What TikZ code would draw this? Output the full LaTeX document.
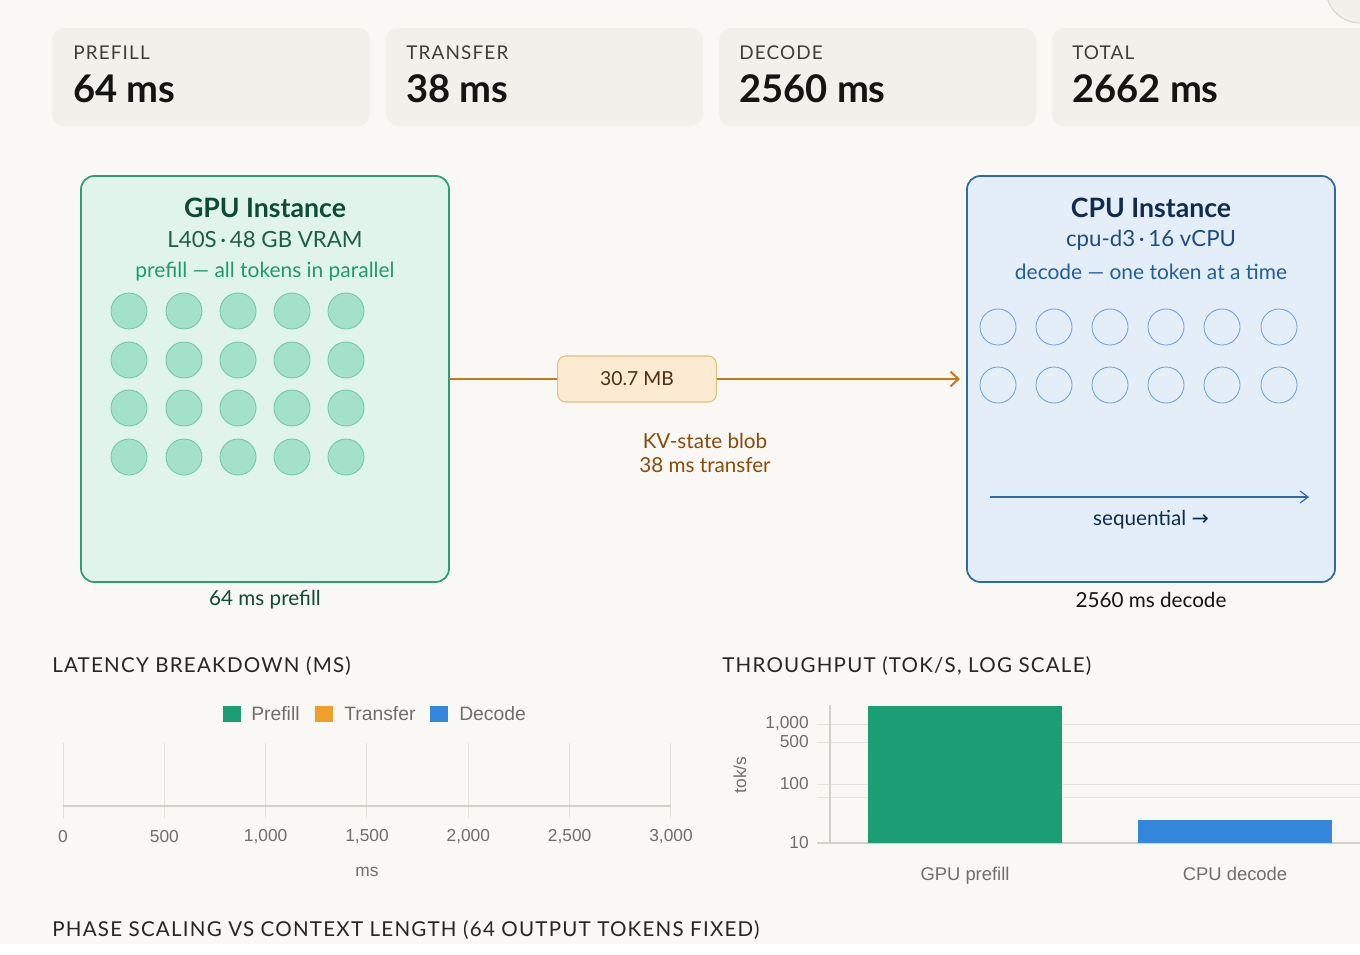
\documentclass[tikz,border=0pt]{standalone}
\usepackage{fontspec}
\setmainfont{Lato}
\newfontfamily\uifont{Lato}
\newfontfamily\capsfont[LetterSpace=6]{Lato}
\newfontfamily\chartfont{Liberation Sans}
\newfontfamily\symfont{DejaVu Sans}
\usetikzlibrary{arrows.meta}
\definecolor{bgc}{HTML}{F9F8F4}
\definecolor{cardc}{HTML}{F1F0EB}
\definecolor{labc}{HTML}{3D3D3A}
\definecolor{valc}{HTML}{141413}
\definecolor{gfill}{HTML}{E0F4EC}
\definecolor{gline}{HTML}{2E9C76}
\definecolor{gdark}{HTML}{0D4A38}
\definecolor{gmid}{HTML}{1C5F49}
\definecolor{glight}{HTML}{1E9A6E}
\definecolor{gdotf}{HTML}{A3E1CA}
\definecolor{gdotl}{HTML}{6CC8A4}
\definecolor{cfill}{HTML}{E4EEF9}
\definecolor{cline}{HTML}{2C6AAE}
\definecolor{cdark}{HTML}{0F2C4E}
\definecolor{cmid}{HTML}{1D4C82}
\definecolor{clight}{HTML}{1F5E9E}
\definecolor{cdotl}{HTML}{6B9ED6}
\definecolor{oline}{HTML}{C47A1B}
\definecolor{ofill}{HTML}{FBEBD2}
\definecolor{oedge}{HTML}{E8BE7B}
\definecolor{otext}{HTML}{8A4A0A}
\definecolor{odark}{HTML}{4A3010}
\definecolor{chg}{HTML}{1C9E75}
\definecolor{cho}{HTML}{F0A02A}
\definecolor{chb}{HTML}{3587DB}
\definecolor{gridc}{HTML}{E4E2DD}
\definecolor{axisc}{HTML}{D2D0CA}
\definecolor{ticklab}{HTML}{6E6E6C}
\definecolor{headc}{HTML}{262624}
\tikzset{
  card/.style={fill=cardc, draw=none, rounded corners=9pt},
  cardlab/.style={anchor=west, inner sep=0, text=labc, font=\capsfont\fontsize{14.2}{16}\selectfont},
  cardval/.style={anchor=west, inner sep=0, text=valc, font=\uifont\bfseries\fontsize{28.6}{32}\selectfont},
  gdot/.style={circle, minimum size=27pt, inner sep=0, fill=gdotf, draw=gdotl, line width=0.6pt},
  cdot/.style={circle, minimum size=27pt, inner sep=0, draw=cdotl, line width=0.6pt},
  heading/.style={anchor=west, inner sep=0, text=headc, font=\capsfont\fontsize{15.4}{18}\selectfont},
  ticktxt/.style={inner sep=0, text=ticklab, font=\chartfont\fontsize{13}{15}\selectfont},
  bodytxt/.style={font=\uifont\fontsize{15.5}{18}\selectfont},
  gridln/.style={draw=gridc, line width=0.75pt},
}
\begin{document}
\begin{tikzpicture}[x=0.75pt,y=-0.75pt]
\useasboundingbox (0,0) rectangle (1360,954);
\fill[bgc] (0,0) rectangle (1360,944);
\fill[white] (0,944) rectangle (1360,954);
% corner button
\begin{scope}
\clip (0,0) rectangle (1360,954);
\filldraw[fill=cardc, draw=axisc, line width=0.6pt] (1360,-11) circle[radius=34];
\end{scope}
% stat cards
\fill[card] (52,28) rectangle (370,126);
\fill[card] (386,28) rectangle (703,126);
\fill[card] (719,28) rectangle (1036,126);
\begin{scope}
\clip (0,0) rectangle (1360,954);
\fill[card] (1052,28) rectangle (1380,126);
\end{scope}
\node[cardlab] (l1) at (73,53) {PREFILL};
\node[cardval] (v1) at (73,89) {64 ms};
\node[cardlab] (l2) at (406,53) {TRANSFER};
\node[cardval] (v2) at (406,89) {38 ms};
\node[cardlab] (l3) at (739,53) {DECODE};
\node[cardval] (v3) at (739,89) {2560 ms};
\node[cardlab] (l4) at (1072,53) {TOTAL};
\node[cardval] (v4) at (1072,89) {2662 ms};
% GPU box
\node[draw=gline, fill=gfill, line width=1.3pt, rounded corners=10pt, minimum width=276pt, minimum height=304.5pt, inner sep=0] (gpu) at (265,379) {};
\node[text=gdark, font=\uifont\bfseries\fontsize{20}{23}\selectfont] (gt) at (265,208) {GPU Instance};
\node[text=gmid, font=\uifont\fontsize{16.7}{19}\selectfont] (gs) at (265,240) {L40S\,·\,48 GB VRAM};
\node[text=glight, font=\uifont\fontsize{15.7}{18}\selectfont] (gd) at (265,272) {prefill — all tokens in parallel};
\foreach \r/\yy in {1/311,2/360,3/408,4/457}{
  \foreach \c/\xx in {1/129,2/184,3/238,4/292,5/346}{
    \node[gdot] (g\r\c) at (\xx,\yy) {};
  }
}
\node[text=gdark, bodytxt] (gcap) at (265,600) {64 ms prefill};
% CPU box
\node[draw=cline, fill=cfill, line width=1.3pt, rounded corners=10pt, minimum width=276pt, minimum height=304.5pt, inner sep=0] (cpu) at (1151,379) {};
\node[text=cdark, font=\uifont\bfseries\fontsize{20}{23}\selectfont] (ct) at (1151,208) {CPU Instance};
\node[text=cmid, font=\uifont\fontsize{16.7}{19}\selectfont] (cs) at (1151,240) {cpu-d3\,·\,16 vCPU};
\node[text=clight, font=\uifont\fontsize{15.7}{18}\selectfont] (cd) at (1151,272) {decode — one token at a time};
\foreach \r/\yy in {1/327,2/385}{
  \foreach \c/\xx in {1/998,2/1054,3/1110,4/1166,5/1222,6/1279}{
    \node[cdot] (c\r\c) at (\xx,\yy) {};
  }
}
\coordinate (sq1) at (990,497);
\coordinate (sq2) at (1309,497);
\draw[cline, line width=0.9pt, -{Straight Barb[length=6pt,width=9pt]}] (sq1) -- (sq2);
\node[text=cdark, bodytxt] (seq) at (1151,520) {sequential {\symfont→}};
\node[text=valc, bodytxt] (ccap) at (1151,600) {2560 ms decode};
% transfer
\node[draw=oedge, fill=ofill, line width=0.8pt, rounded corners=6pt, minimum width=119pt, minimum height=34.5pt, inner sep=0, text=odark, font=\uifont\fontsize{14.5}{17}\selectfont] (blob) at (637,379) {30.7 MB};
\coordinate (tend) at (960,379);
\draw[oline, line width=1.5pt] (gpu.east |- blob.west) -- (blob.west);
\draw[oline, line width=1.5pt, -{Straight Barb[length=6pt,width=11pt]}] (blob.east) -- (tend);
\node[text=otext, font=\uifont\fontsize{15.5}{18.5}\selectfont, align=center] (kv) at (705,453) {KV-state blob\\38 ms transfer};
% latency chart
\node[heading] (h1) at (52,666) {LATENCY BREAKDOWN (MS)};
\fill[chg] (223,706) rectangle (241,722);
\node[ticktxt, anchor=west, font=\chartfont\fontsize{14.5}{16}\selectfont] (lp) at (251,714) {Prefill};
\fill[cho] (315,706) rectangle (333,722);
\node[ticktxt, anchor=west, font=\chartfont\fontsize{14.5}{16}\selectfont] (lt) at (344,714) {Transfer};
\fill[chb] (430,706) rectangle (448,722);
\node[ticktxt, anchor=west, font=\chartfont\fontsize{14.5}{16}\selectfont] (ld) at (459,714) {Decode};
\foreach \k/\lab in {0/0,1/500,2/{1,000},3/{1,500},4/{2,000},5/{2,500},6/{3,000}}{
  \draw[gridln] (63+101.33*\k,743) -- (63+101.33*\k,818);
  \node[ticktxt] (lx\k) at (63+101.33*\k,837) {\lab};
}
\draw[axisc, line width=1.2pt] (63,806) -- (671,806);
\node[ticktxt] (lms) at (367,872) {ms};
% throughput chart
\node[heading] (h2) at (722,666) {THROUGHPUT (TOK/S, LOG SCALE)};
\foreach \yy in {724,742,784,797}{
  \draw[gridln] (817,\yy) -- (1360,\yy);
}
\draw[axisc, line width=0.9pt] (817,843) -- (1360,843);
\draw[axisc, line width=0.9pt] (830,705) -- (830,843);
\node[ticktxt, anchor=east] (t1) at (809,724) {1,000};
\node[ticktxt, anchor=east] (t2) at (809,742) {500};
\node[ticktxt, anchor=east] (t3) at (809,784) {100};
\node[ticktxt, anchor=east] (t4) at (809,843) {10};
\node[ticktxt, rotate=90] (tok) at (740,775) {tok/s};
\fill[chg] (868,706) rectangle (1062,843);
\fill[chb] (1138,820) rectangle (1332,843);
\node[ticktxt, anchor=base, font=\chartfont\fontsize{13.8}{16}\selectfont] (bg1) at (965,880) {GPU prefill};
\node[ticktxt, anchor=base, font=\chartfont\fontsize{13.8}{16}\selectfont] (bg2) at (1235,880) {CPU decode};
% bottom heading
\begin{scope}
\clip (0,0) rectangle (1360,944);
\node[heading] (h3) at (52,930) {PHASE SCALING VS CONTEXT LENGTH (64 OUTPUT TOKENS FIXED)};
\end{scope}
\end{tikzpicture}
\end{document}
